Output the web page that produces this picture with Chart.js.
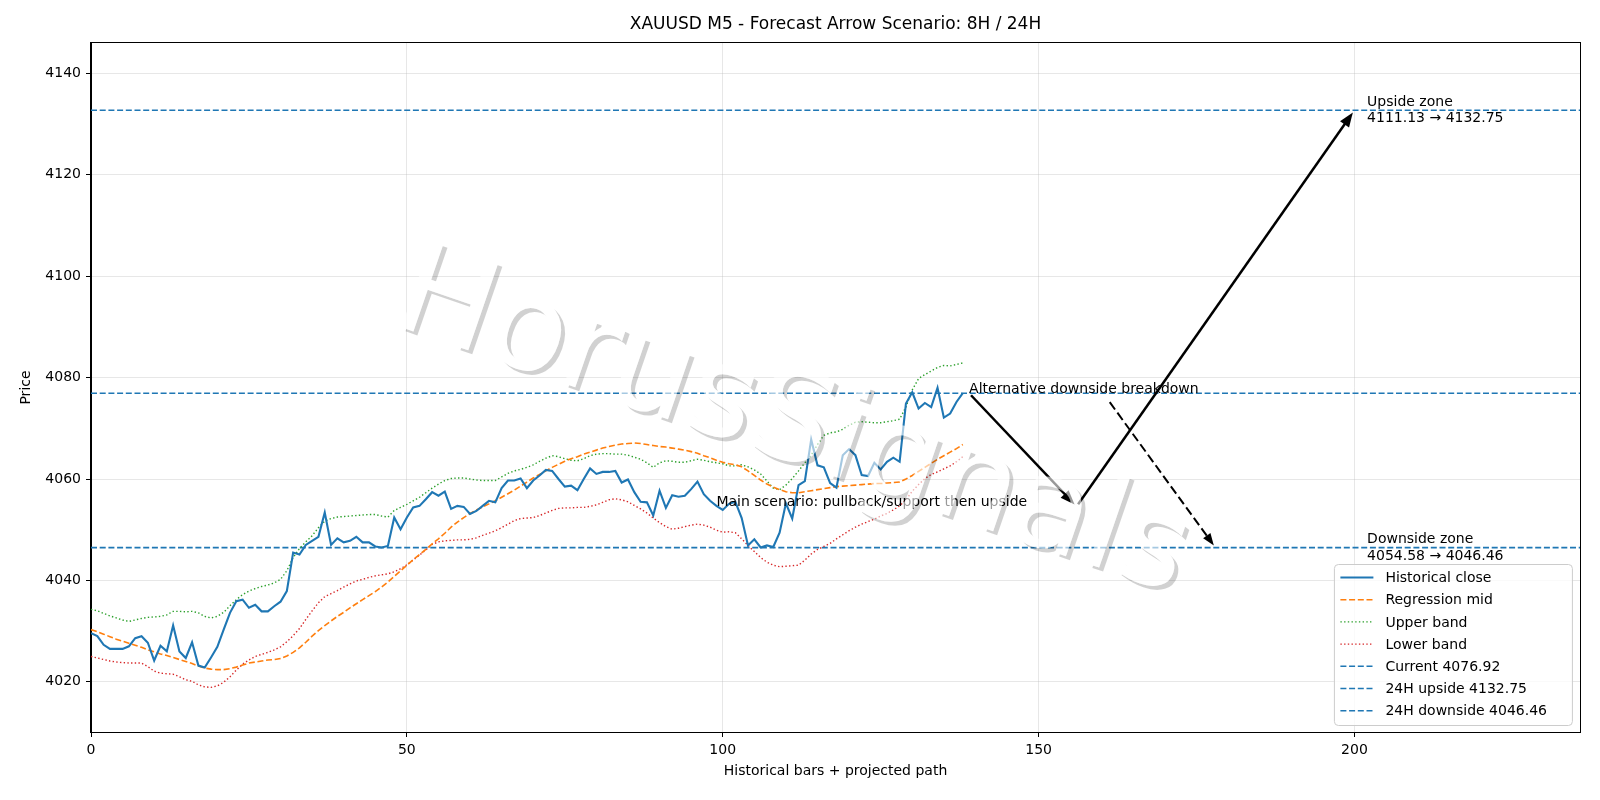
<!DOCTYPE html>
<html lang="en">
<head>
<meta charset="UTF-8">
<title>XAUUSD M5 - Forecast Arrow Scenario</title>
<script src="https://cdn.jsdelivr.net/npm/chart.js"></script>
<style>
  html, body { margin: 0; padding: 0; background: #ffffff; }
  #wrap { width: 1600px; height: 800px; }
</style>
</head>
<body>
<div id="wrap"><canvas id="chart" width="1600" height="800"></canvas></div>
<script>
// historical bars 0..138
const closePrice = [
  4029.6, 4029.0, 4027.3, 4026.5, 4026.5, 4026.5, 4027.0, 4028.6, 4029.0, 4027.7,
  4024.2, 4027.1, 4026.0, 4031.1, 4026.0, 4024.7, 4027.8, 4023.2, 4022.8, 4024.8,
  4026.9, 4030.3, 4033.6, 4035.9, 4036.2, 4034.6, 4035.2, 4033.9, 4033.9, 4034.9,
  4035.8, 4037.9, 4045.5, 4045.1, 4047.0, 4047.8, 4048.6, 4053.4, 4047.0, 4048.3,
  4047.5, 4047.8, 4048.6, 4047.5, 4047.5, 4046.7, 4046.5, 4046.8, 4052.4, 4050.1,
  4052.4, 4054.4, 4054.7, 4056.0, 4057.4, 4056.7, 4057.5, 4054.1, 4054.7, 4054.5,
  4053.1, 4053.7, 4054.7, 4055.7, 4055.4, 4058.2, 4059.7, 4059.7, 4060.1, 4058.2,
  4059.7, 4060.7, 4061.8, 4061.6, 4060.0, 4058.5, 4058.7, 4057.8, 4060.0, 4062.1,
  4061.0, 4061.4, 4061.4, 4061.6, 4059.3, 4059.9, 4057.4, 4055.5, 4055.4, 4052.8,
  4057.7, 4054.3, 4056.8, 4056.5, 4056.7, 4058.0, 4059.5, 4057.0, 4055.7, 4054.7,
  4053.9, 4055.1, 4055.5, 4052.3, 4046.9, 4048.1, 4046.5, 4046.9, 4046.6, 4049.4,
  4055.2, 4052.2, 4058.8, 4059.6, 4067.8, 4062.7, 4062.3, 4059.2, 4058.3, 4064.7,
  4065.9, 4064.7, 4060.8, 4060.6, 4063.2, 4061.9, 4063.4, 4064.2, 4063.4, 4074.9,
  4077.1, 4073.9, 4075.0, 4074.2, 4078.0, 4072.1, 4072.9, 4075.2, 4076.92
];
const regMid = [
  4030.3, 4029.9, 4029.4, 4028.9, 4028.4, 4028.0, 4027.6, 4027.2, 4026.8, 4026.3,
  4025.9, 4025.5, 4025.2, 4024.8, 4024.4, 4024.0, 4023.6, 4023.1, 4022.7, 4022.5,
  4022.4, 4022.4, 4022.6, 4022.9, 4023.3, 4023.7, 4023.9, 4024.1, 4024.3, 4024.4,
  4024.6, 4025.1, 4025.8, 4026.7, 4027.8, 4029.0, 4030.1, 4031.1, 4032.0, 4032.9,
  4033.7, 4034.6, 4035.4, 4036.2, 4037.0, 4037.8, 4038.7, 4039.7, 4040.8, 4041.9,
  4043.0, 4044.1, 4045.1, 4046.1, 4047.2, 4048.2, 4049.3, 4050.5, 4051.5, 4052.4,
  4053.2, 4053.9, 4054.5, 4055.1, 4055.7, 4056.4, 4057.1, 4057.8, 4058.6, 4059.4,
  4060.2, 4060.9, 4061.6, 4062.3, 4062.9, 4063.5, 4064.0, 4064.4, 4064.9, 4065.3,
  4065.7, 4066.1, 4066.4, 4066.7, 4066.9, 4067.0, 4067.1, 4067.0, 4066.8, 4066.6,
  4066.4, 4066.3, 4066.1, 4065.9, 4065.7, 4065.4, 4065.1, 4064.6, 4064.2, 4063.7,
  4063.3, 4063.0, 4062.8, 4062.4, 4061.6, 4060.7, 4059.8, 4059.0, 4058.4, 4057.9,
  4057.5, 4057.3, 4057.3, 4057.5, 4057.7, 4057.9, 4058.1, 4058.3, 4058.5, 4058.6,
  4058.7, 4058.8, 4058.9, 4059.0, 4059.1, 4059.1, 4059.2, 4059.3, 4059.4, 4060.0,
  4060.7, 4061.5, 4062.3, 4063.1, 4063.9, 4064.6, 4065.3, 4066.0, 4066.8
];
const upperBand = [
  4034.3, 4034.0, 4033.5, 4033.0, 4032.6, 4032.2, 4031.9, 4032.2, 4032.5, 4032.7,
  4032.8, 4032.9, 4033.2, 4033.9, 4033.9, 4033.8, 4033.9, 4033.6, 4032.9, 4032.6,
  4032.9, 4033.7, 4035.0, 4036.2, 4037.2, 4037.9, 4038.4, 4038.8, 4039.1, 4039.5,
  4040.2, 4041.9, 4044.5, 4046.3, 4047.6, 4048.8, 4050.4, 4051.7, 4052.2, 4052.5,
  4052.6, 4052.7, 4052.8, 4052.9, 4053.0, 4053.0, 4052.7, 4052.5, 4053.8, 4054.4,
  4055.0, 4055.7, 4056.4, 4057.3, 4058.2, 4059.0, 4059.7, 4060.1, 4060.2, 4060.2,
  4060.0, 4059.8, 4059.7, 4059.7, 4059.7, 4060.4, 4061.1, 4061.6, 4061.9, 4062.3,
  4062.8, 4063.5, 4064.1, 4064.6, 4064.4, 4064.0, 4063.7, 4063.6, 4064.0, 4064.6,
  4064.9, 4065.0, 4065.0, 4064.9, 4064.9, 4064.7, 4064.3, 4063.9, 4063.2, 4062.3,
  4063.2, 4063.6, 4063.5, 4063.3, 4063.3, 4063.6, 4063.9, 4063.7, 4063.4, 4063.2,
  4063.0, 4062.6, 4062.6, 4062.8, 4062.4, 4061.8, 4061.0, 4059.6, 4058.2, 4057.9,
  4058.8, 4060.1, 4061.6, 4063.2, 4064.7, 4066.8, 4068.6, 4069.1, 4069.3, 4069.8,
  4070.6, 4071.2, 4071.3, 4071.2, 4071.1, 4071.1, 4071.3, 4071.5, 4071.8, 4074.2,
  4077.6, 4079.8, 4080.6, 4081.3, 4082.0, 4082.4, 4082.3, 4082.6, 4082.9
];
const lowerBand = [
  4025.0, 4024.7, 4024.4, 4024.1, 4023.9, 4023.8, 4023.7, 4023.7, 4023.7, 4023.0,
  4022.1, 4021.7, 4021.6, 4021.5, 4021.0, 4020.4, 4020.1, 4019.4, 4019.0, 4018.9,
  4019.2, 4019.9, 4021.0, 4022.3, 4023.5, 4024.3, 4025.0, 4025.4, 4025.8, 4026.3,
  4026.9, 4027.9, 4029.1, 4030.5, 4032.3, 4034.0, 4035.6, 4036.8, 4037.4, 4038.0,
  4038.7, 4039.3, 4039.9, 4040.2, 4040.6, 4040.9, 4041.1, 4041.3, 4041.7, 4042.3,
  4043.1, 4044.0, 4045.0, 4046.0, 4047.1, 4047.6, 4047.8, 4047.9, 4048.0, 4048.0,
  4048.1, 4048.4, 4048.9, 4049.3, 4049.8, 4050.4, 4051.1, 4051.8, 4052.2, 4052.3,
  4052.4, 4052.8, 4053.3, 4053.8, 4054.2, 4054.3, 4054.3, 4054.4, 4054.4, 4054.6,
  4054.9, 4055.4, 4055.9, 4056.1, 4055.9, 4055.5, 4054.8, 4054.1, 4053.3, 4052.3,
  4051.4, 4050.6, 4050.1, 4050.3, 4050.6, 4050.9, 4051.1, 4050.9, 4050.5, 4049.9,
  4049.5, 4049.6, 4049.4, 4048.2, 4046.9, 4045.7, 4044.5, 4043.6, 4043.0, 4042.7,
  4042.8, 4042.9, 4043.0, 4044.0, 4045.2, 4046.1, 4046.7, 4047.3, 4048.2, 4049.0,
  4049.8, 4050.5, 4051.1, 4051.6, 4052.1, 4052.7, 4053.2, 4053.9, 4054.7, 4055.9,
  4057.6, 4058.9, 4060.1, 4060.9, 4061.4, 4062.0, 4062.6, 4063.4, 4064.4
];

const currentPrice = 4076.92;
const upside24 = 4132.75;
const downside24 = 4046.46;
const pullbackLevel = 4054.58;
const upsideFrom = 4111.13;

// projected path (bar index, price)
const mainPathX = [139, 156, 200];
const mainPathY = [currentPrice, pullbackLevel, upside24];
const altPathX = [161, 178];
const altPathY = [4075.6, downside24];

const xRange = [0, 235.7];
const yRange = [4010.1, 4146.0];
const xTicks = [0, 50, 100, 150, 200];
const yTicks = [4020, 4040, 4060, 4080, 4100, 4120, 4140];

const FONT = "'DejaVu Sans', sans-serif";
const WATERMARK = 'HorusSignals';

function series(label, values, color, width, dash) {
  return {
    label: label,
    data: values.map((v, i) => ({ x: i, y: v })),
    borderColor: color,
    backgroundColor: color,
    borderWidth: width,
    borderDash: dash,
    pointRadius: 0,
    fill: false,
    tension: 0
  };
}

function hline(label, level, color) {
  return {
    label: label,
    data: [{ x: xRange[0], y: level }, { x: xRange[1], y: level }],
    borderColor: color,
    backgroundColor: color,
    borderWidth: 1.6,
    borderDash: [6, 2.7],
    pointRadius: 0,
    fill: false
  };
}

function arrow(ctx, x1, y1, x2, y2, width, dash) {
  const ang = Math.atan2(y2 - y1, x2 - x1);
  const c = Math.cos(ang), s = Math.sin(ang);
  const shrink = 2.8;
  const sx = x1 + c * shrink, sy = y1 + s * shrink;
  const ex = x2 - c * shrink, ey = y2 - s * shrink;
  const hl = 5 * width + 2, hw = 2 * width + 0.5;
  const bx = ex - c * hl, by = ey - s * hl;
  ctx.lineWidth = width;
  ctx.setLineDash(dash);
  ctx.beginPath();
  ctx.moveTo(sx, sy);
  ctx.lineTo(bx + c * 2, by + s * 2);
  ctx.stroke();
  ctx.setLineDash([]);
  ctx.beginPath();
  ctx.moveTo(ex, ey);
  ctx.lineTo(bx - s * hw, by + c * hw);
  ctx.lineTo(bx + s * hw, by - c * hw);
  ctx.closePath();
  ctx.fill();
}

function drawWatermark(chart) {
  const ctx = chart.ctx;
  const cx = 792, cy = 427, rot = 19 * Math.PI / 180;
  const font = '127px ' + FONT;
  // shadow sliver only (glyph area cut out) on a scratch canvas
  const off = document.createElement('canvas');
  off.width = chart.width;
  off.height = chart.height;
  const o = off.getContext('2d');
  o.font = font;
  o.textAlign = 'center';
  o.textBaseline = 'middle';
  o.save();
  o.translate(cx + 4, cy + 4);
  o.rotate(rot);
  o.fillStyle = 'rgba(0,0,0,0.18)';
  o.fillText(WATERMARK, 0, 0);
  o.restore();
  o.globalCompositeOperation = 'destination-out';
  o.translate(cx, cy);
  o.rotate(rot);
  o.fillStyle = '#000';
  o.fillText(WATERMARK, 0, 0);
  ctx.drawImage(off, 0, 0);
  // semi-transparent white glyphs over the data
  ctx.save();
  ctx.translate(cx, cy);
  ctx.rotate(rot);
  ctx.font = font;
  ctx.textAlign = 'center';
  ctx.textBaseline = 'middle';
  ctx.fillStyle = 'rgba(255,255,255,0.6)';
  ctx.fillText(WATERMARK, 0, 0);
  ctx.restore();
}

const overlay = {
  id: 'overlay',
  afterDatasetsDraw(chart) {
    const { ctx, scales: { x, y } } = chart;
    ctx.save();
    ctx.strokeStyle = '#000';
    ctx.fillStyle = '#000';
    ctx.lineCap = 'butt';
    for (let i = 0; i < mainPathX.length - 1; i++) {
      arrow(ctx, x.getPixelForValue(mainPathX[i]), y.getPixelForValue(mainPathY[i]),
        x.getPixelForValue(mainPathX[i + 1]), y.getPixelForValue(mainPathY[i + 1]), 2.5, []);
    }
    arrow(ctx, x.getPixelForValue(altPathX[0]), y.getPixelForValue(altPathY[0]),
      x.getPixelForValue(altPathX[1]), y.getPixelForValue(altPathY[1]), 2, [9, 4]);

    // annotation texts
    ctx.font = '14px ' + FONT;
    ctx.textAlign = 'left';
    ctx.textBaseline = 'alphabetic';
    ctx.fillText('Alternative downside breakdown', x.getPixelForValue(139), y.getPixelForValue(currentPrice));
    ctx.fillText('Main scenario: pullback/support then upside', x.getPixelForValue(99), y.getPixelForValue(pullbackLevel));
    ctx.textBaseline = 'middle';
    const zx = x.getPixelForValue(202);
    let zy = y.getPixelForValue(upside24);
    ctx.fillText('Upside zone', zx, zy - 8.3);
    ctx.fillText(upsideFrom.toFixed(2) + ' \u2192 ' + upside24.toFixed(2), zx, zy + 8.3);
    zy = y.getPixelForValue(downside24);
    ctx.fillText('Downside zone', zx, zy - 8.3);
    ctx.fillText(pullbackLevel.toFixed(2) + ' \u2192 ' + downside24.toFixed(2), zx, zy + 8.3);
    ctx.restore();

    drawWatermark(chart);
  },
  afterDraw(chart) {
    const { ctx, chartArea: a } = chart;
    ctx.save();
    // frame
    ctx.strokeStyle = '#000';
    ctx.lineWidth = 1;
    ctx.strokeRect(Math.round(a.left) - 0.5, Math.round(a.top) - 0.5,
      Math.round(a.right - a.left) + 1, Math.round(a.bottom - a.top) + 1);
    // title
    ctx.fillStyle = '#000';
    ctx.font = '17px ' + FONT;
    ctx.textAlign = 'center';
    ctx.textBaseline = 'middle';
    ctx.fillText('XAUUSD M5 - Forecast Arrow Scenario: 8H / 24H', (a.left + a.right) / 2, 24.5);

    // legend
    const bw = 238, bh = 161;
    const bx = a.right - 7.6 - bw, by = a.bottom - 6.5 - bh;
    ctx.beginPath();
    ctx.roundRect(bx, by, bw, bh, 4);
    ctx.fillStyle = 'rgba(255,255,255,0.8)';
    ctx.fill();
    ctx.strokeStyle = '#cccccc';
    ctx.lineWidth = 1;
    ctx.stroke();
    ctx.font = '14px ' + FONT;
    ctx.textAlign = 'left';
    ctx.textBaseline = 'middle';
    chart.data.datasets.forEach((ds, i) => {
      const ry = by + 13 + i * 22.2;
      ctx.strokeStyle = ds.borderColor;
      ctx.lineWidth = ds.borderWidth;
      ctx.setLineDash(ds.borderDash);
      ctx.beginPath();
      ctx.moveTo(bx + 6, ry);
      ctx.lineTo(bx + 39, ry);
      ctx.stroke();
      ctx.setLineDash([]);
      ctx.fillStyle = '#000';
      ctx.fillText(ds.label, bx + 51, ry + 1);
    });
    ctx.restore();
  }
};

const axisCommon = {
  type: 'linear',
  grid: {
    color: 'rgba(176,176,176,0.3)',
    lineWidth: 1,
    tickColor: '#000',
    tickLength: 5,
    tickWidth: 1
  },
  border: { display: true, color: '#000', width: 1 },
  ticks: { color: '#000', font: { family: FONT, size: 14 }, padding: 5, maxRotation: 0 }
};

new Chart(document.getElementById('chart'), {
  type: 'line',
  data: {
    datasets: [
      series('Historical close', closePrice, '#1f77b4', 2.1, []),
      series('Regression mid', regMid, '#ff7f0e', 1.6, [6, 2.7]),
      series('Upper band', upperBand, '#2ca02c', 1.4, [1.4, 2.3]),
      series('Lower band', lowerBand, '#d62728', 1.4, [1.4, 2.3]),
      hline('Current ' + currentPrice.toFixed(2), currentPrice, '#1f77b4'),
      hline('24H upside ' + upside24.toFixed(2), upside24, '#1f77b4'),
      hline('24H downside ' + downside24.toFixed(2), downside24, '#1f77b4')
    ]
  },
  options: {
    responsive: false,
    animation: false,
    devicePixelRatio: 1,
    layout: { padding: { top: 43, right: 20, left: 0, bottom: 0 } },
    plugins: {
      legend: { display: false },
      title: { display: false },
      tooltip: { enabled: false }
    },
    scales: {
      x: Object.assign({}, axisCommon, {
        position: 'bottom',
        min: xRange[0],
        max: xRange[1],
        afterBuildTicks: s => { s.ticks = xTicks.map(v => ({ value: v })); },
        afterFit: s => { s.height = 68; },
        ticks: Object.assign({}, axisCommon.ticks, { callback: v => String(v) }),
        title: {
          display: true,
          text: 'Historical bars + projected path',
          color: '#000',
          font: { family: FONT, size: 14 },
          padding: { top: 0, bottom: 20 }
        }
      }),
      y: Object.assign({}, axisCommon, {
        position: 'left',
        min: yRange[0],
        max: yRange[1],
        afterBuildTicks: s => { s.ticks = yTicks.map(v => ({ value: v })); },
        afterFit: s => { s.width = 91; },
        ticks: Object.assign({}, axisCommon.ticks, { callback: v => String(v) }),
        title: {
          display: true,
          text: 'Price',
          color: '#000',
          font: { family: FONT, size: 14 },
          padding: { top: 18, bottom: 0 }
        }
      })
    }
  },
  plugins: [overlay]
});
</script>
</body>
</html>
